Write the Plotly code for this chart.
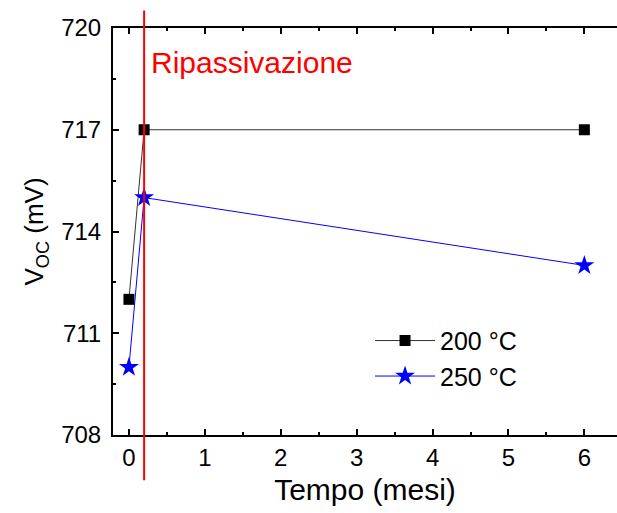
import plotly.graph_objects as go

months = [0, 0.2, 6]
voc_200 = [712, 717, 717]
voc_250 = [710, 715, 713]
ripass_x = 0.2
x_ticks = [0, 1, 2, 3, 4, 5, 6]
y_ticks = [708, 711, 714, 717, 720]

FONT = "Liberation Sans, Arial, sans-serif"

fig = go.Figure()
fig.add_trace(go.Scatter(x=months, y=voc_200, mode="lines+markers", name="200 °C",
                         line=dict(color="#333333", width=1),
                         marker=dict(symbol="square", size=11, color="black")))
fig.add_trace(go.Scatter(x=months, y=voc_250, mode="lines+markers", name="250 °C",
                         line=dict(color="blue", width=1),
                         marker=dict(symbol="star", size=15, color="blue")))

fig.add_shape(type="line", xref="x", yref="paper", x0=ripass_x, x1=ripass_x,
              y0=-0.111, y1=1.043, line=dict(color="red", width=2))
fig.add_annotation(x=ripass_x, y=718.97, xref="x", yref="y", text="Ripassivazione",
                   showarrow=False, xanchor="left", xshift=5,
                   font=dict(color="red", size=30, family=FONT))

axis_common = dict(showline=True, linecolor="black", linewidth=2, ticks="inside",
                   ticklen=6, tickwidth=1.5, tickcolor="black", showgrid=False,
                   zeroline=False, tickfont=dict(size=24, family=FONT, color="black"))
fig.update_xaxes(range=[-0.21, 6.43], tickvals=x_ticks, mirror="ticks",
                 minor=dict(ticks="inside", ticklen=3, tickwidth=1.5, dtick=0.5, tick0=0,
                            tickcolor="black"),
                 title=dict(text="Tempo (mesi)", font=dict(size=30, family=FONT, color="black"),
                            standoff=9),
                 **axis_common)
fig.update_yaxes(range=[708, 720], tickvals=y_ticks, ticklabelstandoff=5,
                 minor=dict(ticks="inside", ticklen=3, tickwidth=1.5, dtick=1.5, tick0=708,
                            tickcolor="black"),
                 title=dict(text="V<sub>OC</sub> (mV)", font=dict(size=26, family=FONT, color="black"),
                            standoff=10),
                 **axis_common)

fig.update_layout(width=617, height=513, margin=dict(l=113, r=0, t=28, b=78),
                  plot_bgcolor="white", paper_bgcolor="white",
                  font=dict(family=FONT),
                  legend=dict(x=0.51, y=0.288, xanchor="left", yanchor="top",
                              bgcolor="rgba(0,0,0,0)", itemwidth=60,
                              font=dict(size=25, family=FONT, color="black"),
                              tracegroupgap=0))
fig.write_html("out.html")
